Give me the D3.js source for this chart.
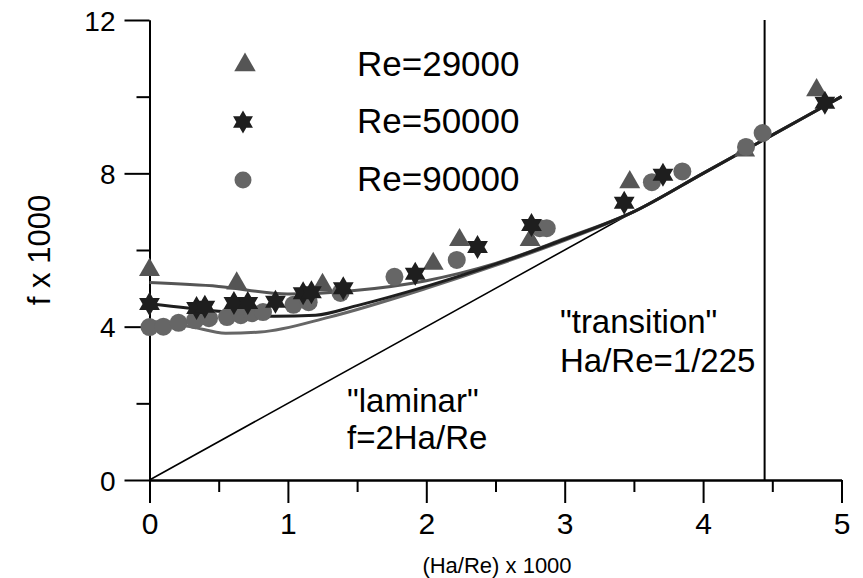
<!DOCTYPE html>
<html>
<head>
<meta charset="utf-8">
<script src="https://cdn.jsdelivr.net/npm/d3@7"></script>
<style>
  body { margin: 0; background: #fff; }
  svg text { font-family: "Liberation Sans", Arial, sans-serif; fill: #000; }
</style>
</head>
<body>
<div id="grafico"></div>
<script>
// datos
var serieTriangulo_x = [0, 0.63, 1.25, 2.05, 2.24, 2.75, 3.47, 4.30, 4.82];
var serieTriangulo_f = [5.48, 5.13, 5.09, 5.64, 6.26, 6.26, 7.77, 8.60, 10.17];

var serieEstrella_x = [0, 0.34, 0.40, 0.61, 0.71, 0.91, 1.11, 1.17, 1.40, 1.92, 2.37, 2.76, 3.43, 3.71, 4.88];
var serieEstrella_f = [4.59, 4.49, 4.52, 4.62, 4.62, 4.65, 4.87, 4.90, 5.00, 5.38, 6.08, 6.65, 7.23, 7.96, 9.84];

var serieCirculo_x = [0, 0.10, 0.21, 0.33, 0.43, 0.56, 0.66, 0.74, 0.82, 1.04, 1.15, 1.38, 1.77, 2.22, 2.82, 2.87, 3.63, 3.85, 4.31, 4.43];
var serieCirculo_f = [3.99, 4.00, 4.10, 4.17, 4.22, 4.25, 4.30, 4.35, 4.38, 4.57, 4.64, 4.88, 5.30, 5.74, 6.57, 6.57, 7.77, 8.05, 8.69, 9.05];

// curvas ajustadas
var curvaA_x = [0, 0.5, 1.0, 1.5, 2.0, 2.5, 3.0, 3.5, 4.0, 4.45, 5.0];
var curvaA_f = [5.15, 5.05, 4.85, 4.95, 5.2, 5.65, 6.3, 7.0, 8.0, 8.9, 10.0];
var curvaB_x = [0, 0.5, 0.9, 1.2, 1.5, 2.0, 2.5, 3.0, 3.5, 4.0, 4.45, 5.0];
var curvaB_f = [4.6, 4.4, 4.27, 4.3, 4.55, 5.05, 5.63, 6.28, 7.0, 8.0, 8.9, 10.0];
var curvaC_x = [0, 0.3, 0.55, 0.8, 1.3, 2.0, 2.5, 3.0, 3.5, 4.0, 4.45, 5.0];
var curvaC_f = [4.15, 4.0, 3.83, 3.86, 4.25, 5.0, 5.6, 6.25, 7.0, 8.0, 8.9, 10.0];

// f = 2Ha/Re y linea de transicion
var laminar_x = [0, 5];
var laminar_f = [0, 10];
var transicion_x = 1000 / 225;

var leyenda = ["Re=29000", "Re=50000", "Re=90000"];
var ticksX = [0, 1, 2, 3, 4, 5];
var ticksXmenor = [0.5, 1.5, 2.5, 3.5, 4.5];
var ticksY = [0, 4, 8, 12];
var ticksYmenor = [2, 6, 10];

var width = 863, height = 578;
var svg = d3.select("#grafico").append("svg")
	.attr("width", width)
	.attr("height", height);

var x = d3.scaleLinear().domain([0, 5]).range([149.5, 841.5]);
var y = d3.scaleLinear().domain([0, 12]).range([480, 20]);

function pares(xs, ys){
	return xs.map(function(v, i){ return [v, ys[i]]; });
}

// ejes
var ejeX = svg.append("g").attr("transform", "translate(0,480)")
	.call(d3.axisBottom(x).tickValues(ticksX).tickSizeInner(23).tickSizeOuter(0).tickPadding(10).tickFormat(d3.format("d")));
svg.append("g").attr("transform", "translate(0,480)")
	.call(d3.axisBottom(x).tickValues(ticksXmenor).tickSizeInner(12).tickSizeOuter(0).tickFormat(""));
var ejeY = svg.append("g").attr("transform", "translate(149.5,0)")
	.call(d3.axisLeft(y).tickValues(ticksY).tickSizeInner(25).tickSizeOuter(0).tickPadding(9).tickFormat(d3.format("d")));
svg.append("g").attr("transform", "translate(149.5,0)")
	.call(d3.axisLeft(y).tickValues(ticksYmenor).tickSizeInner(13).tickSizeOuter(0).tickFormat(""));

svg.selectAll(".domain, .tick line").attr("stroke", "#000").attr("stroke-width", 2);
ejeX.selectAll("text").attr("font-size", 30).attr("font-family", "Liberation Sans, Arial, sans-serif");
ejeY.selectAll("text").attr("font-size", 28).attr("dy", "0.36em").attr("font-family", "Liberation Sans, Arial, sans-serif");

// linea laminar
var linea = d3.line()
	.x(function(d){ return x(d[0]); })
	.y(function(d){ return y(d[1]); });

svg.append("path")
	.attr("d", linea(pares(laminar_x, laminar_f)))
	.attr("fill", "none").attr("stroke", "#000").attr("stroke-width", 1.6);

// linea vertical de transicion
svg.append("line")
	.attr("x1", x(transicion_x)).attr("x2", x(transicion_x))
	.attr("y1", y(12)).attr("y2", y(0))
	.attr("stroke", "#000").attr("stroke-width", 2);

// curvas
var curva = d3.line()
	.curve(d3.curveMonotoneX)
	.x(function(d){ return x(d[0]); })
	.y(function(d){ return y(d[1]); });

[[curvaC_x, curvaC_f, "#666"], [curvaA_x, curvaA_f, "#555"], [curvaB_x, curvaB_f, "#1e1e1e"]].forEach(function(c){
	svg.append("path")
		.attr("d", curva(pares(c[0], c[1])))
		.attr("fill", "none").attr("stroke", c[2]).attr("stroke-width", 3);
});

// estrella de seis puntas
function estrella(R){
	var r = R / Math.sqrt(3);
	var pts = d3.range(12).map(function(i){
		var a = i * Math.PI / 6 - Math.PI / 2;
		var rad = i % 2 === 0 ? R : r;
		return [rad * Math.cos(a), rad * Math.sin(a)];
	});
	return "M" + pts.join("L") + "Z";
}
var triangulo = d3.symbol().type(d3.symbolTriangle).size(190);

// puntos
svg.selectAll(".tri").data(pares(serieTriangulo_x, serieTriangulo_f)).enter()
	.append("path").attr("class", "tri")
	.attr("d", triangulo)
	.attr("transform", function(d){ return "translate(" + x(d[0]) + "," + y(d[1]) + ")"; })
	.attr("fill", "#555");

svg.selectAll(".circ").data(pares(serieCirculo_x, serieCirculo_f)).enter()
	.append("circle").attr("class", "circ")
	.attr("cx", function(d){ return x(d[0]); })
	.attr("cy", function(d){ return y(d[1]); })
	.attr("r", 9)
	.attr("fill", "#666");

svg.selectAll(".est").data(pares(serieEstrella_x, serieEstrella_f)).enter()
	.append("path").attr("class", "est")
	.attr("d", estrella(12))
	.attr("transform", function(d){ return "translate(" + x(d[0]) + "," + y(d[1]) + ")"; })
	.attr("fill", "#1e1e1e");

// leyenda
var leyY = [65, 122, 180];
svg.append("path").attr("d", d3.symbol().type(d3.symbolTriangle).size(200)())
	.attr("transform", "translate(245," + leyY[0] + ")").attr("fill", "#555");
svg.append("path").attr("d", estrella(11.5))
	.attr("transform", "translate(243," + leyY[1] + ")").attr("fill", "#1e1e1e");
svg.append("circle").attr("cx", 243).attr("cy", leyY[2]).attr("r", 8.5).attr("fill", "#666");

svg.selectAll(".ley").data(leyenda).enter()
	.append("text").attr("class", "ley")
	.attr("x", 357)
	.attr("y", function(d, i){ return leyY[i] + 11; })
	.attr("font-size", 35)
	.text(function(d){ return d; });

// anotaciones
svg.append("text").attr("x", 347).attr("y", 412).attr("font-size", 33).text("\"laminar\"");
svg.append("text").attr("x", 347).attr("y", 449).attr("font-size", 33).text("f=2Ha/Re");
svg.append("text").attr("x", 560).attr("y", 333).attr("font-size", 33).text("\"transition\"");
svg.append("text").attr("x", 560).attr("y", 372).attr("font-size", 33).text("Ha/Re=1/225");

// titulos de ejes
svg.append("text").attr("x", 497).attr("y", 573).attr("text-anchor", "middle")
	.attr("font-size", 22).text("(Ha/Re) x 1000");
svg.append("text").attr("transform", "translate(50,250) rotate(-90)")
	.attr("text-anchor", "middle").attr("font-size", 31).text("f x 1000");
</script>
</body>
</html>
